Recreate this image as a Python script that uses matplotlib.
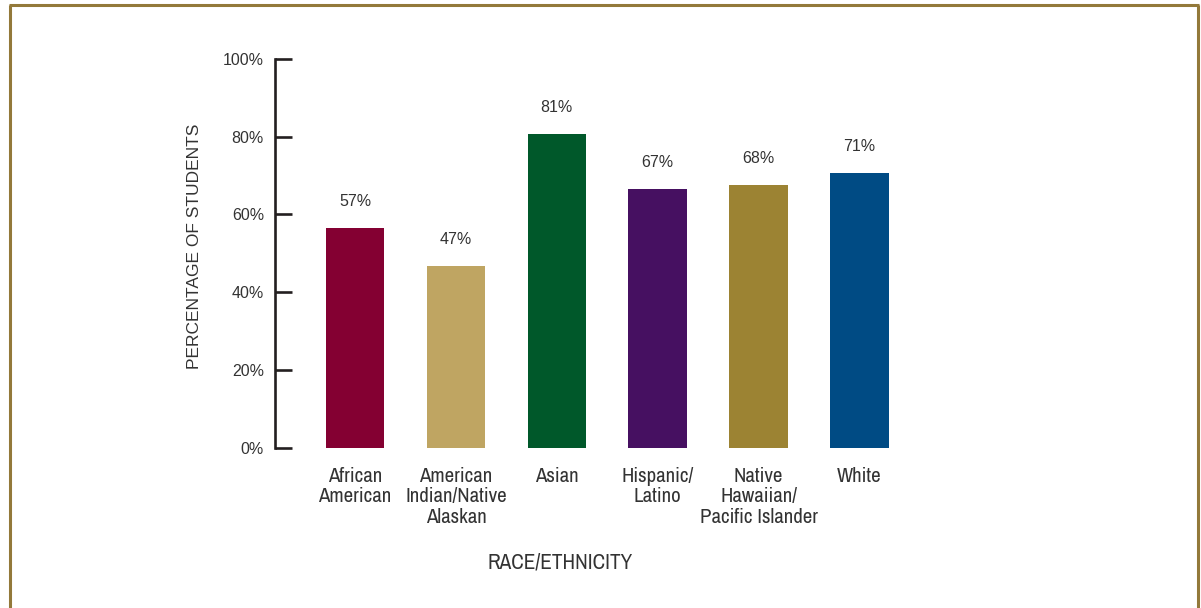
import matplotlib
matplotlib.use("Agg")
import matplotlib.pyplot as plt
from matplotlib.lines import Line2D
from matplotlib.ticker import FuncFormatter

# data
categories = [
    "African\nAmerican",
    "American\nIndian/Native\nAlaskan",
    "Asian",
    "Hispanic/\nLatino",
    "Native\nHawaiian/\nPacific Islander",
    "White",
]
values = [56.4, 46.6, 80.7, 66.5, 67.5, 70.6]
value_labels = ["57%", "47%", "81%", "67%", "68%", "71%"]
colors = ["#840032", "#bfa562", "#00582a", "#461061", "#9c8333", "#004b84"]
yticks = [0, 20, 40, 60, 80, 100]

INK = "#231f20"
TEXT = "#333333"
FRAME = "#93793a"
# condensed face for the category text, plain sans for the numbers
NARROW = dict(family=["Archivo Narrow", "DejaVu Sans"], stretch="condensed")
REGULAR = dict(family=["Liberation Sans", "DejaVu Sans"])

W, H = 1201, 608
fig = plt.figure(figsize=(W / 100, H / 100), dpi=100)

# axes placed in pixel terms: y axis at x=275, 0% at y=447.5, 100% at y=59
left, right = 275, 950
bottom, top = 447.5, 59
ax = fig.add_axes([left / W, 1 - bottom / H, (right - left) / W, (bottom - top) / H])

x = list(range(len(categories)))
step = 100.9
ax.set_xlim(-(355 - left) / step, (right - 355) / step)
ax.set_ylim(0, 100)

ax.bar(x, values, width=0.58, color=colors, zorder=2)
for xi, v, lab in zip(x, values, value_labels):
    ax.annotate(lab, (xi, v), xytext=(0, 14), textcoords="offset points",
                ha="center", va="bottom", fontsize=11.5, color=TEXT, **REGULAR)

for s in ["top", "right", "bottom"]:
    ax.spines[s].set_visible(False)
ax.spines["left"].set_linewidth(1.9)
ax.spines["left"].set_color(INK)

ax.set_yticks(yticks)
ax.yaxis.set_major_formatter(FuncFormatter(lambda v, _: f"{v:.0f}%"))
ax.tick_params(axis="y", direction="in", length=12.2, width=1.9, color=INK,
               pad=8, labelsize=11.5, labelcolor=TEXT)
for t in ax.get_yticklabels():
    t.set_family(REGULAR["family"])

ax.set_xticks(x)
ax.set_xticklabels(categories, fontsize=15, color=TEXT, linespacing=1.1, **NARROW)
ax.tick_params(axis="x", length=0, pad=14)

fig.text(194 / W, 1 - 246 / H, "PERCENTAGE OF STUDENTS", rotation=90,
         ha="center", va="center", fontsize=12.5, color=TEXT, **REGULAR)
fig.text(560 / W, 1 - 563 / H, "RACE/ETHNICITY", ha="center", va="center",
         fontsize=15.3, color=TEXT, **NARROW)

# gold frame: left, top and right edges (bottom runs off the image)
fr = dict(color=FRAME, linewidth=2.2, transform=fig.transFigure, solid_capstyle="butt")
fig.add_artist(Line2D([9.5 / W, 9.5 / W], [0, 1 - 5 / H], **fr))
fig.add_artist(Line2D([8.5 / W, 1199 / W], [1 - 5 / H, 1 - 5 / H], **fr))
fig.add_artist(Line2D([1198 / W, 1198 / W], [0, 1 - 5 / H], **fr))

fig.savefig("out.png", dpi=100, facecolor="white")
